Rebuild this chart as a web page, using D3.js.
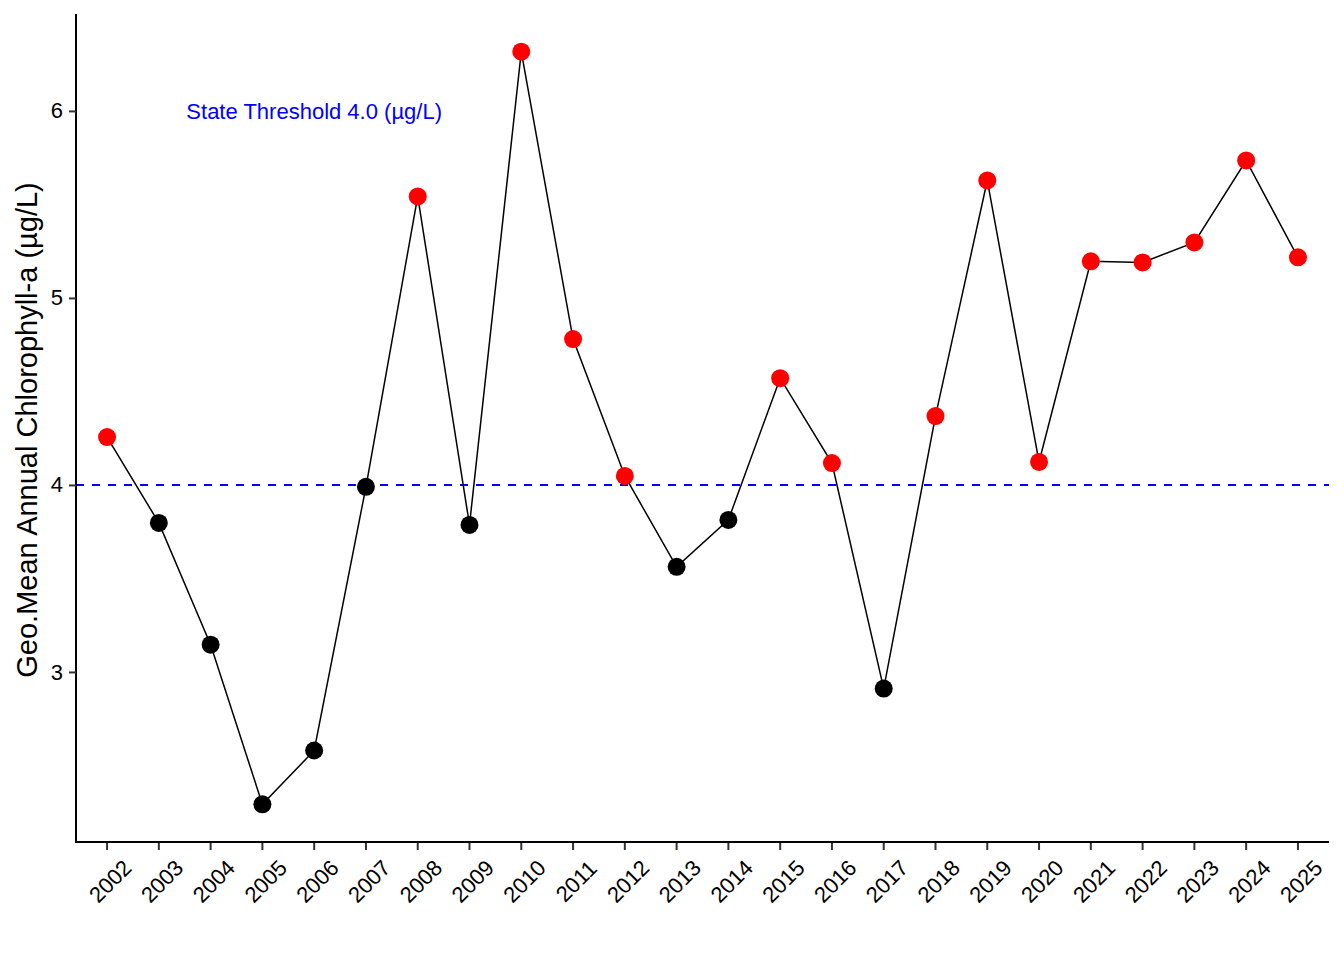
<!DOCTYPE html>
<html>
<head>
<meta charset="utf-8">
<script src="https://cdn.jsdelivr.net/npm/d3@7"></script>
<style>
  body { margin: 0; background: #fff; }
  text { font-family: "Liberation Sans", Arial, sans-serif; }
</style>
</head>
<body>
<div id="chart"></div>
<script>
const years = ["2002","2003","2004","2005","2006","2007","2008","2009","2010","2011","2012","2013",
               "2014","2015","2016","2017","2018","2019","2020","2021","2022","2023","2024","2025"];
const chla = [4.256, 3.797, 3.146, 2.292, 2.580, 3.990, 5.543, 3.786, 6.317, 4.780, 4.048, 3.562,
              3.813, 4.571, 4.117, 2.911, 4.368, 5.628, 4.123, 5.196, 5.190, 5.297, 5.735, 5.217];
const yTicks = [3, 4, 5, 6];
const threshold = 4.0;
const thresholdLabel = "State Threshold 4.0 (\u00b5g/L)";
const labelYear = "2006";
const labelValue = 6;
const yTitle = "Geo.Mean Annual Chlorophyll-a (\u00b5g/L)";

const W = 1344, H = 960;
const margin = {top: 14, right: 15, bottom: 118, left: 76},
    width = W - margin.left - margin.right,
    height = H - margin.top - margin.bottom;

const svg = d3.select("#chart").append("svg")
    .attr("width", W)
    .attr("height", H)
  .append("g")
    .attr("transform", "translate(" + margin.left + "," + margin.top + ")");

// discrete x with ggplot-style 0.6 expansion on each side
const xIdx = d3.scaleLinear()
    .domain([-0.6, years.length - 1 + 0.6])
    .range([0, width]);
const x = d => xIdx(years.indexOf(d));

const yMin = d3.min(chla), yMax = d3.max(chla), pad = (yMax - yMin) * 0.05;
const y = d3.scaleLinear()
    .domain([yMin - pad, yMax + pad])
    .range([height, 0]);

// threshold line
svg.append("line")
    .attr("x1", 0).attr("x2", width)
    .attr("y1", y(threshold)).attr("y2", y(threshold))
    .attr("stroke", "#0000ff")
    .attr("stroke-width", 2)
    .attr("stroke-dasharray", "8,8");

// connecting line
const line = d3.line()
    .x((d, i) => x(years[i]))
    .y(d => y(d));

svg.append("path")
    .datum(chla)
    .attr("fill", "none")
    .attr("stroke", "#000")
    .attr("stroke-width", 1.5)
    .attr("d", line);

// points
svg.selectAll("circle.pt")
    .data(chla)
  .enter().append("circle")
    .attr("class", "pt")
    .attr("cx", (d, i) => x(years[i]))
    .attr("cy", d => y(d))
    .attr("r", 9)
    .attr("fill", d => d > threshold ? "#ff0000" : "#000000");

// annotation
svg.append("text")
    .attr("x", x(labelYear))
    .attr("y", y(labelValue))
    .attr("dy", "0.36em")
    .attr("text-anchor", "middle")
    .attr("fill", "#0000ff")
    .style("font-size", "22px")
    .text(thresholdLabel);

// axes
const xAxis = svg.append("g")
    .attr("transform", "translate(0," + height + ")");
xAxis.append("line")
    .attr("x1", 0).attr("x2", width)
    .attr("stroke", "#000").attr("stroke-width", 2);
const xt = xAxis.selectAll("g.tick")
    .data(years)
  .enter().append("g")
    .attr("class", "tick")
    .attr("transform", d => "translate(" + x(d) + ",0)");
xt.append("line")
    .attr("y1", 1).attr("y2", 8)
    .attr("stroke", "#333").attr("stroke-width", 2);
xt.append("text")
    .attr("transform", "translate(3,39) rotate(-45)")
    .attr("text-anchor", "middle")
    .attr("dy", "0.36em")
    .attr("fill", "#000")
    .style("font-size", "22px")
    .text(d => d);

const yAxis = svg.append("g")
    .call(d3.axisLeft(y).tickValues(yTicks).tickSize(7).tickPadding(6).tickFormat(d3.format("d")));
yAxis.select(".domain").attr("stroke", "#000").attr("stroke-width", 2)
    .attr("d", "M0," + (height + 1) + "V0");
yAxis.selectAll(".tick line").attr("stroke", "#333").attr("stroke-width", 2);
yAxis.selectAll(".tick text")
    .attr("fill", "#000")
    .style("font-size", "22px")
    .style("font-family", "Liberation Sans, Arial, sans-serif");

svg.append("text")
    .attr("transform", "translate(" + (27 - margin.left) + "," + (height / 2 + 2) + ") rotate(-90)")
    .attr("text-anchor", "middle")
    .attr("dy", "0.36em")
    .attr("fill", "#000")
    .style("font-size", "29px")
    .text(yTitle);
</script>
</body>
</html>
